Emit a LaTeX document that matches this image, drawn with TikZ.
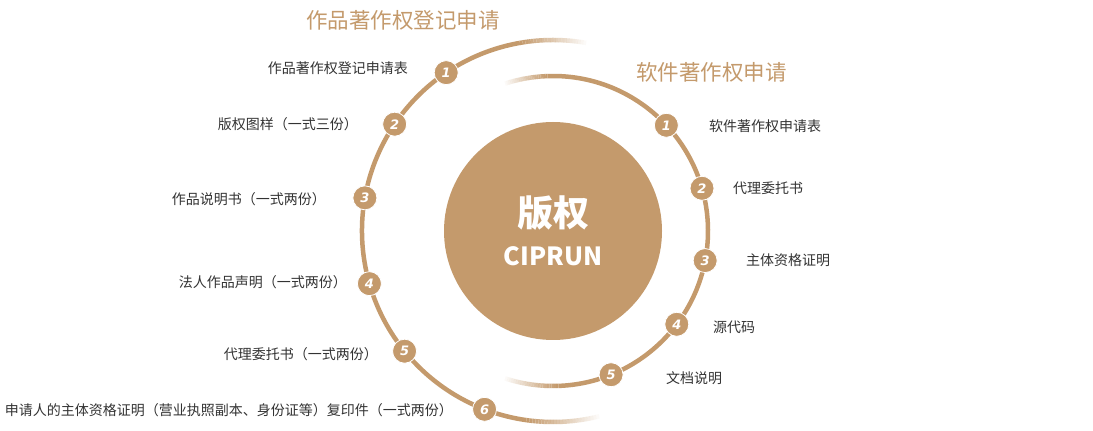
\documentclass[tikz,border=0pt]{standalone}
\usepackage{fontspec}
\newfontfamily\cjk{Noto Sans CJK SC}
\newfontfamily\numf{DejaVu Sans}
\definecolor{gold}{HTML}{C49A6C}
\definecolor{txt}{HTML}{333333}
\newcommand\fadearc[3]{%
  \foreach \k in {0,...,23}{%
    \pgfmathsetmacro\aa{#2+(#3-#2)*\k/24}%
    \pgfmathsetmacro\bb{#2+(#3-#2)*(\k+1)/24}%
    \pgfmathsetmacro\op{1-\k/24}%
    \draw[ring,draw opacity=\op] ([shift={(\aa:#1)}]C) arc[start angle=\aa,end angle=\bb,radius=#1];
  }}
\begin{document}
\begin{tikzpicture}[x=1pt,y=1pt,
  ring/.style={gold,line width=4.5pt},
  mk/.style={circle,fill=gold,draw=white,line width=0.8pt,minimum size=24pt,inner sep=0pt,text=white,font=\numf\bfseries\itshape\fontsize{13}{13}\selectfont},
  lab/.style={text=txt,font=\cjk\fontsize{14}{15}\selectfont,inner sep=0pt},
  ttl/.style={text=gold,font=\cjk\fontsize{21.5}{22}\selectfont,inner sep=0pt}]
\useasboundingbox[fill=white] (0,0) rectangle (1093,431);
\coordinate (C) at (553,200);
\fill[gold] (C) circle[radius=109pt];
\node[text=white,font=\cjk\bfseries\fontsize{36}{36}\selectfont] (t1) at (553,218) {版权};
\node[text=white,font=\cjk\bfseries\fontsize{25}{25}\selectfont] (t2) at (553,175) {CIPRUN};
% outer ring
\draw[ring] ([shift={(100:191pt)}]C) arc[start angle=100,end angle=262,radius=191pt];
\fadearc{191pt}{100}{80}
\fadearc{191pt}{262}{284}
% inner ring
\draw[ring] ([shift={(92:155pt)}]C) arc[start angle=92,end angle=-88,radius=155pt];
\fadearc{155pt}{92}{108}
\fadearc{155pt}{-88}{-108}
% left markers
\node[mk] (L1) at ([shift={(124:191pt)}]C) {1};
\node[mk] (L2) at ([shift={(146:191pt)}]C) {2};
\node[mk] (L3) at ([shift={(170:191pt)}]C) {3};
\node[mk] (L4) at ([shift={(196:191pt)}]C) {4};
\node[mk] (L5) at ([shift={(219:191pt)}]C) {5};
\node[mk] (L6) at ([shift={(249:191pt)}]C) {6};
% right markers
\node[mk] (R1) at ([shift={(43:155pt)}]C) {1};
\node[mk] (R2) at ([shift={(16:155pt)}]C) {2};
\node[mk] (R3) at ([shift={(-11:155pt)}]C) {3};
\node[mk] (R4) at ([shift={(-37:155pt)}]C) {4};
\node[mk] (R5) at ([shift={(-68:155pt)}]C) {5};
% titles
\node[ttl,anchor=west] (T1) at (306,411) {作品著作权登记申请};
\node[ttl,anchor=west] (T2) at (636,359) {软件著作权申请};
% left labels
\node[lab,anchor=east] (l1) at (408,363) {作品著作权登记申请表};
\node[lab,anchor=east] (l2) at (358,307) {版权图样（一式三份）};
\node[lab,anchor=east] (l3) at (326,232) {作品说明书（一式两份）};
\node[lab,anchor=east] (l4) at (347,149) {法人作品声明（一式两份）};
\node[lab,anchor=east] (l5) at (378,77) {代理委托书（一式两份）};
\node[lab,anchor=east] (l6) at (453,21) {申请人的主体资格证明（营业执照副本、身份证等）复印件（一式两份）};
% right labels
\node[lab,anchor=west] (r1) at (709,305) {软件著作权申请表};
\node[lab,anchor=west] (r2) at (733,243) {代理委托书};
\node[lab,anchor=west] (r3) at (746,171) {主体资格证明};
\node[lab,anchor=west] (r4) at (713,104) {源代码};
\node[lab,anchor=west] (r5) at (666,53) {文档说明};
\end{tikzpicture}
\end{document}
